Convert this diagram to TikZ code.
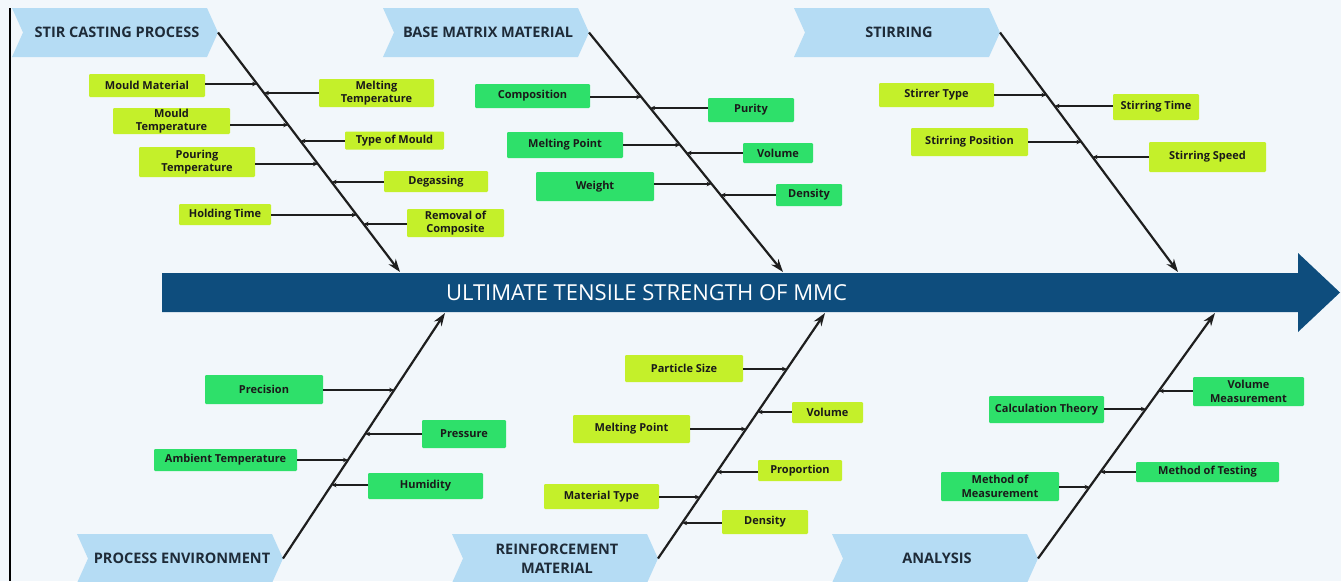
\documentclass[tikz,border=0pt]{standalone}
\usepackage{fontspec}
\setmainfont{Open Sans}
\usetikzlibrary{calc,arrows.meta}
\definecolor{bgc}{HTML}{F2F7FB}
\definecolor{hdrfill}{HTML}{B5DCF4}
\definecolor{hdrtxt}{HTML}{1E2B38}
\definecolor{mainblue}{HTML}{0E4D7D}
\definecolor{limec}{HTML}{C4F02A}
\definecolor{grnc}{HTML}{2EE06A}
\definecolor{boxtxt}{HTML}{1A1A1A}
\definecolor{linec}{HTML}{1E1E1E}
\tikzset{
  box/.style={font=\bfseries\fontsize{11}{13.5}\selectfont, align=center, inner sep=0pt, text=boxtxt, rounded corners=1.2pt},
  limebox/.style={box, fill=limec},
  grnbox/.style={box, fill=grnc},
  bx/.style 2 args={minimum width=#1, minimum height=#2},
  hdrtext/.style={font=\bfseries\fontsize{14.5}{19.5}\selectfont, text=hdrtxt, align=center, inner sep=0pt},
  spine/.style={-{Stealth[length=13pt,width=9pt]}, line width=2.2pt, draw=linec},
  br/.style={-{Stealth[length=5pt,width=4.5pt]}, line width=1.2pt, draw=linec},
}
\newcommand\fishhdr[4]{%
  \fill[hdrfill] (#2,#3) -- ++(195,0) -- ++(11,24.5) -- ++(-11,24.5) -- ++(-195,0) -- ++(11,-24.5) -- cycle;
  \node[hdrtext] (#1) at (#2+105,#3+24.5) {#4};
  \coordinate (#1tip) at (#2+206,#3+24.5);
}
\begin{document}
\begin{tikzpicture}[x=1pt,y=-1pt]
\useasboundingbox (0,0) rectangle (1341,581);
\fill[bgc] (0,0) rectangle (1341,581);
\draw[line width=2pt, black] (10,8) -- (10,581);

% main arrow
\fill[mainblue] (162,273) -- (1298,273) -- (1298,253) -- (1340,292.5) -- (1298,332) -- (1298,312) -- (162,312) -- cycle;
\node[font=\fontsize{22}{26}\selectfont, text=white, inner sep=0pt] (main) at (646.5,292.5) {ULTIMATE TENSILE STRENGTH OF MMC};

% headers
\fishhdr{hA}{12}{8}{STIR CASTING PROCESS}
\fishhdr{hB}{383}{8}{BASE MATRIX MATERIAL}
\fishhdr{hC}{794}{8}{STIRRING}
\fishhdr{hD}{77}{534}{PROCESS ENVIRONMENT}
\fishhdr{hE}{452}{534}{REINFORCEMENT\\MATERIAL}
\fishhdr{hF}{832}{534}{ANALYSIS}

% spine ends
\coordinate (s1b) at (400,272);
\coordinate (s2b) at (783,272);
\coordinate (s3b) at (1178,272);
\coordinate (s4b) at (445,313);
\coordinate (s5b) at (825,313);
\coordinate (s6b) at (1215,313);
\draw[spine] (hAtip) -- (s1b);
\draw[spine] (hBtip) -- (s2b);
\draw[spine] (hCtip) -- (s3b);
\draw[spine] (hDtip) -- (s4b);
\draw[spine] (hEtip) -- (s5b);
\draw[spine] (hFtip) -- (s6b);

% ---- group 1: stir casting process
\node[limebox, bx={116}{23}] (mm) at (147,85.5) {Mould Material};
\node[limebox, bx={115}{28}] (mt) at (376.5,93) {Melting\\Temperature};
\node[limebox, bx={117}{26}] (mot) at (171.5,121) {Mould\\Temperature};
\node[limebox, bx={99}{18}] (tom) at (394.5,140.5) {Type of Mould};
\node[limebox, bx={116}{30}] (pt) at (197,162) {Pouring\\Temperature};
\node[limebox, bx={104}{21}] (deg) at (436,181.5) {Degassing};
\node[limebox, bx={92}{21}] (ht) at (225,214.5) {Holding Time};
\node[limebox, bx={97}{28}] (rc) at (455.5,223) {Removal of\\Composite};
\coordinate (c-mm) at ($(hAtip)!{(84-32.5)/239.5}!(s1b)$);
\coordinate (c-mt) at ($(hAtip)!{(93-32.5)/239.5}!(s1b)$);
\coordinate (c-mot) at ($(hAtip)!{(125-32.5)/239.5}!(s1b)$);
\coordinate (c-tom) at ($(hAtip)!{(141-32.5)/239.5}!(s1b)$);
\coordinate (c-pt) at ($(hAtip)!{(164-32.5)/239.5}!(s1b)$);
\coordinate (c-deg) at ($(hAtip)!{(182-32.5)/239.5}!(s1b)$);
\coordinate (c-ht) at ($(hAtip)!{(215-32.5)/239.5}!(s1b)$);
\coordinate (c-rc) at ($(hAtip)!{(224-32.5)/239.5}!(s1b)$);
\draw[br] (mm.east |- c-mm) -- (c-mm);
\draw[br] (mt.west |- c-mt) -- (c-mt);
\draw[br] (mot.east |- c-mot) -- (c-mot);
\draw[br] (tom.west |- c-tom) -- (c-tom);
\draw[br] (pt.east |- c-pt) -- (c-pt);
\draw[br] (deg.west |- c-deg) -- (c-deg);
\draw[br] (ht.east |- c-ht) -- (c-ht);
\draw[br] (rc.west |- c-rc) -- (c-rc);

% ---- group 2: base matrix material
\node[grnbox, bx={115}{24}] (comp) at (532.5,96) {Composition};
\node[grnbox, bx={86}{24}] (pur) at (751,110) {Purity};
\node[grnbox, bx={116}{26}] (mp1) at (565,145) {Melting Point};
\node[grnbox, bx={70}{20}] (vol1) at (778,153) {Volume};
\node[grnbox, bx={118}{29}] (wt) at (595,186.5) {Weight};
\node[grnbox, bx={66}{22}] (den1) at (809,195) {Density};
\coordinate (c-comp) at ($(hBtip)!{(97-32.5)/239.5}!(s2b)$);
\coordinate (c-pur) at ($(hBtip)!{(108-32.5)/239.5}!(s2b)$);
\coordinate (c-mp1) at ($(hBtip)!{(145-32.5)/239.5}!(s2b)$);
\coordinate (c-vol1) at ($(hBtip)!{(153-32.5)/239.5}!(s2b)$);
\coordinate (c-wt) at ($(hBtip)!{(184-32.5)/239.5}!(s2b)$);
\coordinate (c-den1) at ($(hBtip)!{(195-32.5)/239.5}!(s2b)$);
\draw[br] (comp.east |- c-comp) -- (c-comp);
\draw[br] (pur.west |- c-pur) -- (c-pur);
\draw[br] (mp1.east |- c-mp1) -- (c-mp1);
\draw[br] (vol1.west |- c-vol1) -- (c-vol1);
\draw[br] (wt.east |- c-wt) -- (c-wt);
\draw[br] (den1.west |- c-den1) -- (c-den1);

% ---- group 3: stirring
\node[limebox, bx={115}{24}] (st) at (936.5,95) {Stirrer Type};
\node[limebox, bx={86}{26}] (stt) at (1156,107) {Stirring Time};
\node[limebox, bx={117}{28}] (sp) at (969.5,142) {Stirring Position};
\node[limebox, bx={117}{30}] (ss) at (1207.5,157) {Stirring Speed};
\coordinate (c-st) at ($(hCtip)!{(95-32.5)/239.5}!(s3b)$);
\coordinate (c-stt) at ($(hCtip)!{(106-32.5)/239.5}!(s3b)$);
\coordinate (c-sp) at ($(hCtip)!{(142-32.5)/239.5}!(s3b)$);
\coordinate (c-ss) at ($(hCtip)!{(157-32.5)/239.5}!(s3b)$);
\draw[br] (st.east |- c-st) -- (c-st);
\draw[br] (stt.west |- c-stt) -- (c-stt);
\draw[br] (sp.east |- c-sp) -- (c-sp);
\draw[br] (ss.west |- c-ss) -- (c-ss);

% ---- group 4: process environment
\node[grnbox, bx={118}{29}] (prec) at (264,389.5) {Precision};
\node[grnbox, bx={84}{28}] (pres) at (464,434) {Pressure};
\node[grnbox, bx={143}{22}] (amb) at (225.5,460) {Ambient Temperature};
\node[grnbox, bx={115}{26}] (hum) at (425.5,486) {Humidity};
\coordinate (c-prec) at ($(hDtip)!{(390-558.5)/(-245.5)}!(s4b)$);
\coordinate (c-pres) at ($(hDtip)!{(434-558.5)/(-245.5)}!(s4b)$);
\coordinate (c-amb) at ($(hDtip)!{(460-558.5)/(-245.5)}!(s4b)$);
\coordinate (c-hum) at ($(hDtip)!{(485-558.5)/(-245.5)}!(s4b)$);
\draw[br] (prec.east |- c-prec) -- (c-prec);
\draw[br] (pres.west |- c-pres) -- (c-pres);
\draw[br] (amb.east |- c-amb) -- (c-amb);
\draw[br] (hum.west |- c-hum) -- (c-hum);

% ---- group 5: reinforcement material
\node[limebox, bx={118}{27}] (ps) at (684,368.5) {Particle Size};
\node[limebox, bx={71}{21}] (vol2) at (827.5,412.5) {Volume};
\node[limebox, bx={117}{28}] (mp2) at (631.5,429) {Melting Point};
\node[limebox, bx={84}{21}] (prop) at (800,470.5) {Proportion};
\node[limebox, bx={115}{25}] (mtype) at (601.5,496.5) {Material Type};
\node[limebox, bx={86}{24}] (den2) at (765,522) {Density};
\coordinate (c-ps) at ($(hEtip)!{(369-558.5)/(-245.5)}!(s5b)$);
\coordinate (c-vol2) at ($(hEtip)!{(412-558.5)/(-245.5)}!(s5b)$);
\coordinate (c-mp2) at ($(hEtip)!{(429-558.5)/(-245.5)}!(s5b)$);
\coordinate (c-prop) at ($(hEtip)!{(472-558.5)/(-245.5)}!(s5b)$);
\coordinate (c-mtype) at ($(hEtip)!{(497-558.5)/(-245.5)}!(s5b)$);
\coordinate (c-den2) at ($(hEtip)!{(523-558.5)/(-245.5)}!(s5b)$);
\draw[br] (ps.east |- c-ps) -- (c-ps);
\draw[br] (vol2.west |- c-vol2) -- (c-vol2);
\draw[br] (mp2.east |- c-mp2) -- (c-mp2);
\draw[br] (prop.west |- c-prop) -- (c-prop);
\draw[br] (mtype.east |- c-mtype) -- (c-mtype);
\draw[br] (den2.west |- c-den2) -- (c-den2);

% ---- group 6: analysis
\node[grnbox, bx={111}{29}] (vm) at (1248.5,391.5) {Volume\\Measurement};
\node[grnbox, bx={115}{27}] (ct) at (1046.5,409.5) {Calculation Theory};
\node[grnbox, bx={143}{20}] (mtest) at (1207.5,472) {Method of Testing};
\node[grnbox, bx={118}{29}] (mom) at (1000,486.5) {Method of\\Measurement};
\coordinate (c-vm) at ($(hFtip)!{(391-558.5)/(-245.5)}!(s6b)$);
\coordinate (c-ct) at ($(hFtip)!{(409-558.5)/(-245.5)}!(s6b)$);
\coordinate (c-mtest) at ($(hFtip)!{(472-558.5)/(-245.5)}!(s6b)$);
\coordinate (c-mom) at ($(hFtip)!{(487-558.5)/(-245.5)}!(s6b)$);
\draw[br] (vm.west |- c-vm) -- (c-vm);
\draw[br] (ct.east |- c-ct) -- (c-ct);
\draw[br] (mtest.west |- c-mtest) -- (c-mtest);
\draw[br] (mom.east |- c-mom) -- (c-mom);
\end{tikzpicture}
\end{document}
